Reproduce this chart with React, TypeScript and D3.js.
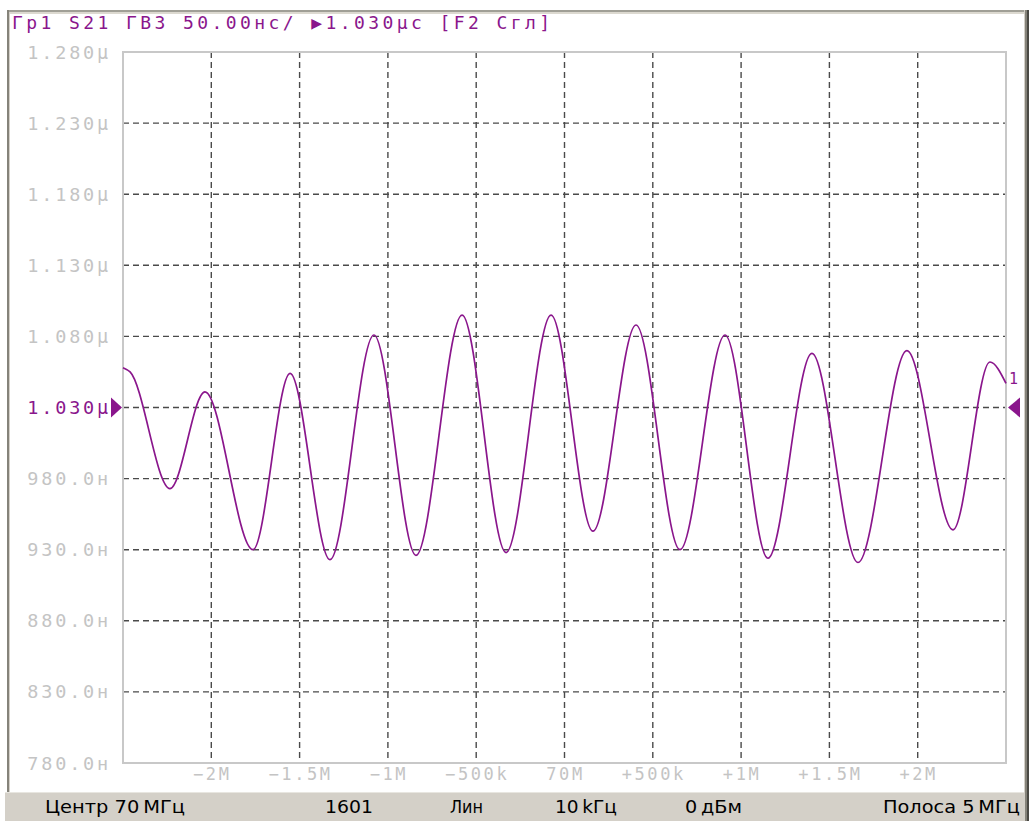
import { useRef, useEffect } from 'react';
import * as d3 from 'd3';

const W = 1030;
const H = 821;

// offset from the 70 MHz centre, MHz
const freqOffsets = [
  -2.5, -2.46, -2.234, -2.036, -1.764, -1.554, -1.328, -1.079, -0.841, -0.58, -0.331, -0.076,
  0.161, 0.405, 0.654, 0.909, 1.152, 1.401, 1.662, 1.939, 2.2, 2.409, 2.5,
];
// group delay, ns
const groupDelay = [
  1058, 1055, 973, 1041, 930, 1054, 923, 1081, 926, 1095, 928, 1095,
  943, 1088, 930, 1081, 924, 1068, 921, 1070, 944, 1062, 1047,
];

const xTicks = [-2, -1.5, -1, -0.5, 0, 0.5, 1, 1.5, 2];
const xTickLabels = ['−2M', '−1.5M', '−1M', '−500k', '70M', '+500k', '+1M', '+1.5M', '+2M'];
const yTicks = [1280, 1230, 1180, 1130, 1080, 1030, 980, 930, 880, 830, 780];
const yTickLabels = ['1.280μ', '1.230μ', '1.180μ', '1.130μ', '1.080μ', '1.030μ', '980.0н', '930.0н', '880.0н', '830.0н', '780.0н'];
const refLevel = 1030;

const headerText = 'Гр1 S21 ГВЗ 50.00нс/ ▶1.030μс [F2 Сгл]';
const statusItems = ['Центр 70\u2009МГц', '1601', 'Лин', '10\u2009kГц', '0\u2009дБм', 'Полоса 5\u2009МГц'];

const traceColor = '#8a168c';

export default function App() {
  const svgRef = useRef<SVGSVGElement>(null);

  useEffect(() => {
    if (!svgRef.current) return;
    const svg = d3.select(svgRef.current);
    svg.selectAll('*').remove();

    const plot = { left: 123, right: 1006, top: 52, bottom: 763 };

    const x = d3.scaleLinear().domain([-2.5, 2.5]).range([plot.left, plot.right]);
    const y = d3.scaleLinear().domain([780, 1280]).range([plot.bottom, plot.top]);

    svg.append('rect').attr('width', W).attr('height', H).attr('fill', '#fff');

    // window frame
    svg.append('rect').attr('x', 8).attr('y', 10).attr('width', 1017).attr('height', 2).attr('fill', '#a09f96');
    svg.append('rect').attr('x', 8).attr('y', 12).attr('width', 1017).attr('height', 2).attr('fill', '#dcd9d0');
    svg.append('rect').attr('x', 7).attr('y', 10).attr('width', 2).attr('height', 782).attr('fill', '#85837a');
    svg.append('rect').attr('x', 9).attr('y', 12).attr('width', 1).attr('height', 780).attr('fill', '#d4d0c8');

    // status bar
    svg.append('rect').attr('x', 5).attr('y', 792).attr('width', 1020).attr('height', 29).attr('fill', '#d4d0c8');
    svg.append('rect').attr('x', 5).attr('y', 792).attr('width', 1020).attr('height', 1).attr('fill', '#e8e6e0');

    svg.append('rect').attr('x', 1024).attr('y', 10).attr('width', 1).attr('height', 811).attr('fill', '#d4d0c8');
    svg.append('rect').attr('x', 1025).attr('y', 10).attr('width', 2).attr('height', 811).attr('fill', '#85837a');
    svg.append('rect').attr('x', 1027).attr('y', 10).attr('width', 2).attr('height', 811).attr('fill', '#4a4944');

    // grid
    const gridColor = '#4a4a4a';
    svg.append('g')
      .selectAll('line')
      .data(xTicks)
      .join('line')
      .attr('x1', d => x(d))
      .attr('x2', d => x(d))
      .attr('y1', plot.top)
      .attr('y2', plot.bottom)
      .attr('stroke', gridColor)
      .attr('stroke-width', 1.4)
      .attr('stroke-dasharray', '6,4');

    svg.append('g')
      .selectAll('line')
      .data(yTicks.filter(d => d !== 1280 && d !== 780))
      .join('line')
      .attr('x1', plot.left)
      .attr('x2', plot.right)
      .attr('y1', d => y(d))
      .attr('y2', d => y(d))
      .attr('stroke', gridColor)
      .attr('stroke-width', 1.4)
      .attr('stroke-dasharray', '6,4');

    // plot border
    svg.append('rect')
      .attr('x', plot.left)
      .attr('y', plot.top)
      .attr('width', plot.right - plot.left)
      .attr('height', plot.bottom - plot.top)
      .attr('fill', 'none')
      .attr('stroke', '#c8c8c8')
      .attr('stroke-width', 2);

    // y labels
    svg.append('g')
      .selectAll('text')
      .data(yTicks)
      .join('text')
      .attr('x', 111)
      .attr('y', d => y(d) + 6.5)
      .attr('text-anchor', 'end')
      .attr('font-family', '"DejaVu Sans Mono", monospace')
      .attr('font-size', 18.5)
      .attr('font-weight', 300)
      .style('letter-spacing', '2.8px')
      .attr('fill', d => (d === refLevel ? traceColor : '#c4c4c4'))
      .text((d, i) => yTickLabels[i]);

    // x labels
    svg.append('g')
      .selectAll('text')
      .data(xTicks)
      .join('text')
      .attr('x', d => x(d) + 1)
      .attr('y', 780)
      .attr('text-anchor', 'middle')
      .attr('font-family', '"DejaVu Sans Mono", monospace')
      .attr('font-size', 17)
      .style('letter-spacing', '2.6px')
      .attr('fill', '#c4c4c4')
      .text((d, i) => xTickLabels[i]);

    // trace
    const data = freqOffsets.map((f, i) => ({ f, v: groupDelay[i] }));
    const line = d3.line<{ f: number; v: number }>()
      .x(d => x(d.f))
      .y(d => y(d.v))
      .curve(d3.curveMonotoneX);

    svg.append('path')
      .datum(data)
      .attr('fill', 'none')
      .attr('stroke', traceColor)
      .attr('stroke-width', 1.7)
      .attr('d', line);

    // reference markers
    const ry = y(refLevel);
    svg.append('path')
      .attr('d', `M${plot.left - 12},${ry - 10}L${plot.left - 1},${ry}L${plot.left - 12},${ry + 10}Z`)
      .attr('fill', traceColor);
    svg.append('path')
      .attr('d', `M${plot.right + 14},${ry - 10}L${plot.right + 2},${ry}L${plot.right + 14},${ry + 10}Z`)
      .attr('fill', traceColor);

    // trace number
    const last = data[data.length - 1];
    svg.append('text')
      .attr('x', plot.right + 3)
      .attr('y', y(last.v) + 1)
      .attr('font-family', '"DejaVu Sans Mono", monospace')
      .attr('font-size', 15)
      .attr('fill', traceColor)
      .text('1');

    // header
    svg.append('text')
      .attr('x', 12)
      .attr('y', 29)
      .attr('font-family', '"DejaVu Sans Mono", monospace')
      .attr('font-size', 18)
      .attr('textLength', 538)
      .attr('lengthAdjust', 'spacing')
      .attr('fill', traceColor)
      .text(headerText);

    // status bar texts
    const statusPos = [
      { x: 45, w: 140 },
      { x: 325, w: 48 },
      { x: 450, w: 33 },
      { x: 555, w: 62 },
      { x: 685, w: 57 },
      { x: 883, w: 137 },
    ];
    svg.append('g')
      .selectAll('text')
      .data(statusItems)
      .join('text')
      .attr('x', (d, i) => statusPos[i].x)
      .attr('y', 813)
      .attr('font-family', '"DejaVu Sans", sans-serif')
      .attr('font-size', 17.5)
      .attr('textLength', (d, i) => statusPos[i].w)
      .attr('lengthAdjust', 'spacingAndGlyphs')
      .attr('fill', '#000')
      .text(d => d);
  }, []);

  return (
    <svg
      ref={svgRef}
      width={W}
      height={H}
      style={{ position: 'absolute', left: 0, top: 0, display: 'block' }}
    />
  );
}
